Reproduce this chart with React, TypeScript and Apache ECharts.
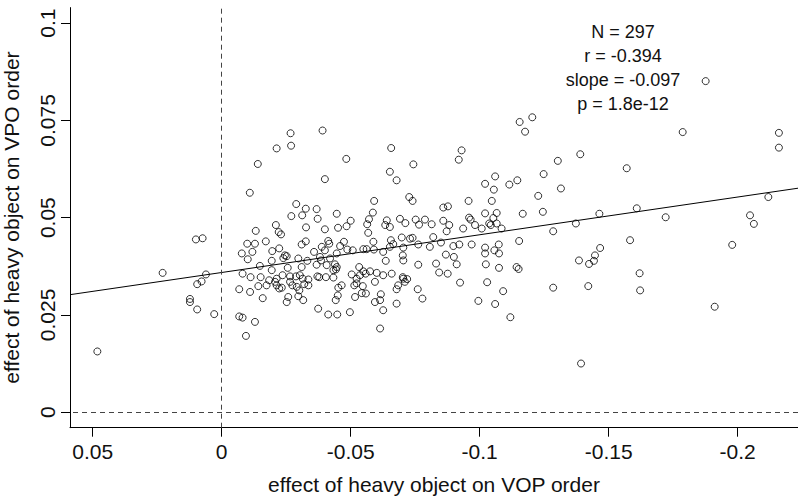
import React, { useEffect, useRef } from "react";
import * as echarts from "echarts";

// ---- data ----
const xTicks = [0.05, 0, -0.05, -0.1, -0.15, -0.2];
const yTicks = [0, 0.025, 0.05, 0.075, 0.1];
const xRange = [-0.2234, 0.0588];
const yRange = [-0.004, 0.104];
const fitIntercept = 0.0359;
const fitSlope = -0.097;
const statLines = ["N = 297", "r = -0.394", "slope = -0.097", "p = 1.8e-12"];
const xTitle = "effect of heavy object on VOP order";
const yTitle = "effect of heavy object on VPO order";

// [effect on VOP order, effect on VPO order]
const observations: [number, number][] = [
  [0.0482, 0.0156], [0.0100, 0.0444], [0.0074, 0.0447], [0.0229, 0.0358], [0.0061, 0.0354],
  [0.0095, 0.0329], [0.0078, 0.0336], [0.0123, 0.0291], [0.0123, 0.0283], [0.0095, 0.0264],
  [0.0029, 0.0252], [-0.0267, 0.0717], [-0.0391, 0.0724], [-0.0213, 0.0678], [-0.0269, 0.0685],
  [-0.0657, 0.0679], [-0.0140, 0.0638], [-0.0483, 0.0651], [-0.0400, 0.0599], [-0.0652, 0.0618],
  [-0.0678, 0.0596], [-0.0109, 0.0564], [-0.0289, 0.0535], [-0.0326, 0.0523], [-0.0368, 0.0522],
  [-0.0591, 0.0543], [-0.0727, 0.0553], [-0.0270, 0.0504], [-0.0312, 0.0506], [-0.0446, 0.0510],
  [-0.0586, 0.0513], [-0.0372, 0.0497], [-0.0500, 0.0492], [-0.0571, 0.0496], [-0.0640, 0.0493],
  [-0.0691, 0.0497], [-0.0712, 0.0486], [-0.1155, 0.0746], [-0.1204, 0.0758], [-0.1176, 0.0721],
  [-0.0930, 0.0673], [-0.0919, 0.0649], [-0.0743, 0.0637], [-0.1390, 0.0663], [-0.1303, 0.0646],
  [-0.1248, 0.0612], [-0.1060, 0.0606], [-0.1021, 0.0587], [-0.1055, 0.0572], [-0.1115, 0.0585],
  [-0.1146, 0.0596], [-0.1315, 0.0575], [-0.1227, 0.0556], [-0.0740, 0.0543], [-0.0957, 0.0543],
  [-0.1047, 0.0543], [-0.0859, 0.0526], [-0.0877, 0.0529], [-0.1245, 0.0515], [-0.1167, 0.0510],
  [-0.1021, 0.0511], [-0.1066, 0.0512], [-0.0752, 0.0495], [-0.0788, 0.0495], [-0.0859, 0.0492],
  [-0.0959, 0.0500], [-0.0965, 0.0495], [-0.1053, 0.0499], [-0.0765, 0.0482], [-0.0814, 0.0483],
  [-0.0882, 0.0481], [-0.0872, 0.0465], [-0.0936, 0.0472], [-0.0982, 0.0481], [-0.1008, 0.0472],
  [-0.1037, 0.0485], [-0.1043, 0.0481], [-0.1066, 0.0485], [-0.1085, 0.0472], [-0.1373, 0.0485],
  [-0.1285, 0.0465], [-0.0698, 0.0449], [-0.0730, 0.0446], [-0.0740, 0.0448], [-0.0820, 0.0450],
  [-0.0762, 0.0431], [-0.0807, 0.0425], [-0.0850, 0.0436], [-0.0898, 0.0427], [-0.0921, 0.0431],
  [-0.0969, 0.0431], [-0.1021, 0.0423], [-0.1021, 0.0408], [-0.1074, 0.0431], [-0.1057, 0.0416],
  [-0.1075, 0.0408], [-0.1153, 0.0440], [-0.0704, 0.0423], [-0.0702, 0.0403], [-0.0704, 0.0390],
  [-0.0869, 0.0405], [-0.0900, 0.0399], [-0.0762, 0.0379], [-0.0831, 0.0382], [-0.0911, 0.0380],
  [-0.1024, 0.0380], [-0.1075, 0.0371], [-0.1143, 0.0373], [-0.1151, 0.0368], [-0.0843, 0.0359],
  [-0.0876, 0.0356], [-0.0704, 0.0343], [-0.0719, 0.0342], [-0.0710, 0.0335], [-0.0924, 0.0333],
  [-0.1029, 0.0334], [-0.0760, 0.0316], [-0.0778, 0.0292], [-0.1091, 0.0311], [-0.0995, 0.0286],
  [-0.1060, 0.0278], [-0.1119, 0.0244], [-0.1285, 0.0320], [-0.1385, 0.0390], [-0.1424, 0.0381],
  [-0.1421, 0.0324], [-0.1464, 0.0510], [-0.1609, 0.0524], [-0.1721, 0.0501], [-0.2048, 0.0506],
  [-0.2063, 0.0484], [-0.1583, 0.0442], [-0.1979, 0.0430], [-0.1467, 0.0422], [-0.1447, 0.0403],
  [-0.1443, 0.0389], [-0.1620, 0.0357], [-0.1622, 0.0313], [-0.1911, 0.0271], [-0.1876, 0.0851],
  [-0.1787, 0.0720], [-0.2160, 0.0718], [-0.2160, 0.0680], [-0.1570, 0.0627], [-0.2119, 0.0553],
  [-0.1393, 0.0125],
  [-0.0564, 0.0483], [-0.0634, 0.0481], [-0.0210, 0.0481], [-0.0484, 0.0478], [-0.0451, 0.0474],
  [-0.0327, 0.0475], [-0.0400, 0.0470], [-0.0652, 0.0476], [-0.0132, 0.0466], [-0.0221, 0.0463],
  [-0.0230, 0.0457], [-0.0568, 0.0461], [-0.0099, 0.0433], [-0.0129, 0.0433], [-0.0171, 0.0439],
  [-0.0310, 0.0431], [-0.0326, 0.0439], [-0.0413, 0.0440], [-0.0417, 0.0433], [-0.0474, 0.0438],
  [-0.0588, 0.0438], [-0.0656, 0.0442], [-0.0665, 0.0432], [-0.0078, 0.0408], [-0.0119, 0.0412],
  [-0.0196, 0.0414], [-0.0223, 0.0421], [-0.0388, 0.0425], [-0.0400, 0.0416], [-0.0358, 0.0412],
  [-0.0446, 0.0408], [-0.0459, 0.0427], [-0.0487, 0.0418], [-0.0508, 0.0416], [-0.0549, 0.0419],
  [-0.0562, 0.0419], [-0.0590, 0.0418], [-0.0626, 0.0412], [-0.0652, 0.0425], [-0.0101, 0.0393],
  [-0.0245, 0.0403], [-0.0239, 0.0396], [-0.0252, 0.0401], [-0.0297, 0.0395], [-0.0332, 0.0389],
  [-0.0381, 0.0399], [-0.0385, 0.0390], [-0.0420, 0.0395], [-0.0194, 0.0389], [-0.0636, 0.0389],
  [-0.0148, 0.0376], [-0.0194, 0.0365], [-0.0256, 0.0371], [-0.0310, 0.0373], [-0.0368, 0.0379],
  [-0.0407, 0.0378], [-0.0439, 0.0380], [-0.0446, 0.0373], [-0.0443, 0.0367], [-0.0433, 0.0365],
  [-0.0533, 0.0373], [-0.0549, 0.0362], [-0.0575, 0.0362], [-0.0601, 0.0358], [-0.0626, 0.0352],
  [-0.0659, 0.0356], [-0.0081, 0.0356], [-0.0112, 0.0347], [-0.0151, 0.0347], [-0.0184, 0.0339],
  [-0.0213, 0.0343], [-0.0236, 0.0352], [-0.0265, 0.0349], [-0.0288, 0.0349], [-0.0303, 0.0352],
  [-0.0314, 0.0343], [-0.0336, 0.0341], [-0.0371, 0.0349], [-0.0378, 0.0347], [-0.0404, 0.0347],
  [-0.0433, 0.0346], [-0.0504, 0.0354], [-0.0523, 0.0343], [-0.0536, 0.0352], [-0.0558, 0.0356],
  [-0.0594, 0.0335], [-0.0702, 0.0347], [-0.0068, 0.0316], [-0.0110, 0.0309], [-0.0142, 0.0324],
  [-0.0174, 0.0326], [-0.0207, 0.0335], [-0.0213, 0.0326], [-0.0223, 0.0318], [-0.0233, 0.0320],
  [-0.0265, 0.0335], [-0.0274, 0.0326], [-0.0291, 0.0322], [-0.0301, 0.0313], [-0.0320, 0.0329],
  [-0.0336, 0.0326], [-0.0452, 0.0320], [-0.0465, 0.0326], [-0.0514, 0.0326], [-0.0523, 0.0331],
  [-0.0547, 0.0324], [-0.0543, 0.0306], [-0.0559, 0.0305], [-0.0678, 0.0316], [-0.0684, 0.0326],
  [-0.0159, 0.0293], [-0.0252, 0.0283], [-0.0258, 0.0296], [-0.0297, 0.0298], [-0.0316, 0.0288],
  [-0.0442, 0.0288], [-0.0450, 0.0300], [-0.0517, 0.0296], [-0.0594, 0.0283], [-0.0614, 0.0288],
  [-0.0617, 0.0303], [-0.0678, 0.0279], [-0.0374, 0.0266], [-0.0413, 0.0251], [-0.0448, 0.0251],
  [-0.0497, 0.0257], [-0.0626, 0.0262], [-0.0068, 0.0246], [-0.0081, 0.0243], [-0.0129, 0.0232],
  [-0.0614, 0.0215], [-0.0094, 0.0196],
];

const FONT = "'Liberation Sans', Arial, Helvetica, sans-serif";
const AXIS_FONT = 21;

export default function App() {
  const ref = useRef<HTMLDivElement>(null);
  useEffect(() => {
    if (!ref.current) return;
    const chart = echarts.init(ref.current, undefined, { renderer: "svg" });
    const fitLine = [xRange[0], xRange[1]].map((x) => [x, fitIntercept + fitSlope * x]);
    chart.setOption({
      animation: false,
      backgroundColor: "#ffffff",
      textStyle: { fontFamily: FONT },
      grid: { left: 70, right: 0, top: 7.6, bottom: 69.3, containLabel: false },
      xAxis: {
        type: "value",
        inverse: true,
        min: xRange[0],
        max: xRange[1],
        splitLine: { show: false },
        axisLine: { show: true, onZero: false, lineStyle: { color: "#000", width: 1 } },
        axisTick: { show: true, length: 9, customValues: xTicks, lineStyle: { color: "#000" } },
        axisLabel: {
          customValues: xTicks,
          formatter: (v: number) => String(v),
          fontSize: AXIS_FONT,
          fontFamily: FONT,
          color: "#111",
          margin: 13,
        },
      },
      yAxis: {
        type: "value",
        min: yRange[0],
        max: yRange[1],
        splitLine: { show: false },
        axisLine: { show: true, onZero: false, lineStyle: { color: "#000", width: 1 } },
        axisTick: { show: true, length: 9, customValues: yTicks, lineStyle: { color: "#000" } },
        axisLabel: {
          customValues: yTicks,
          formatter: (v: number) => String(v),
          rotate: 90,
          fontSize: AXIS_FONT,
          fontFamily: FONT,
          color: "#111",
          margin: 12,
        },
      },
      series: [
        {
          type: "line",
          data: fitLine,
          showSymbol: false,
          silent: true,
          lineStyle: { color: "#000", width: 1 },
          markLine: {
            silent: true,
            symbol: ["none", "none"],
            label: { show: false },
            lineStyle: { type: [5, 4], color: "#444", width: 1 },
            data: [{ xAxis: 0 }, { yAxis: 0 }],
          },
          z: 3,
        },
        {
          type: "scatter",
          data: observations,
          symbol: "circle",
          symbolSize: 7,
          silent: true,
          itemStyle: { color: "rgba(0,0,0,0)", borderColor: "#000", borderWidth: 1 },
          z: 4,
        },
      ],
      graphic: [
        ...statLines.map((t, i) => ({
          type: "text",
          x: 623,
          y: 32 + i * 24,
          style: {
            text: t,
            fontSize: 18,
            fontFamily: FONT,
            fill: "#111",
            align: "center",
            verticalAlign: "middle",
          },
        })),
        {
          type: "text",
          x: 434,
          y: 484,
          style: {
            text: xTitle,
            fontSize: AXIS_FONT,
            fontFamily: FONT,
            fill: "#111",
            align: "center",
            verticalAlign: "middle",
          },
        },
        {
          type: "text",
          x: 11,
          y: 217.6,
          rotation: Math.PI / 2,
          style: {
            text: yTitle,
            fontSize: AXIS_FONT,
            fontFamily: FONT,
            fill: "#111",
            align: "center",
            verticalAlign: "middle",
          },
        },
      ],
    });
    return () => chart.dispose();
  }, []);
  return (
    <div
      ref={ref}
      style={{ position: "absolute", left: 0, top: 0, width: 798, height: 497, background: "#fff" }}
    />
  );
}
